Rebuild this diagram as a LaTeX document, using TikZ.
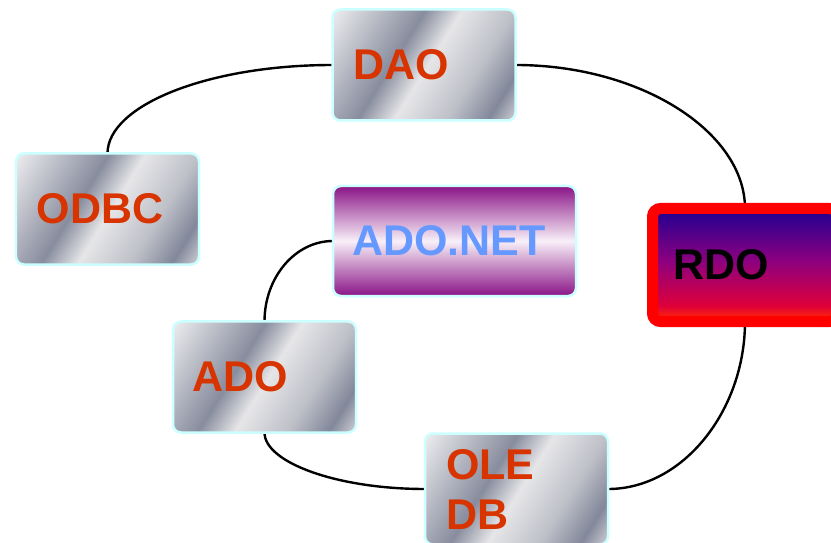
\documentclass[tikz,border=0pt]{standalone}
\usepackage{fontspec}
\setmainfont{Liberation Sans}
\usetikzlibrary{backgrounds}

% palette
\definecolor{labelred}{RGB}{216,52,0}
\definecolor{netblue}{RGB}{102,153,255}
\definecolor{edgecyan}{RGB}{204,255,255}
\definecolor{mA}{RGB}{238,238,240}
\definecolor{mB}{RGB}{136,141,158}
\definecolor{mC}{RGB}{230,230,232}
\definecolor{mD}{RGB}{190,192,200}
\definecolor{mE}{RGB}{130,136,154}
\definecolor{mF}{RGB}{210,211,216}
\definecolor{netpurple}{RGB}{138,20,135}
\definecolor{netlight}{RGB}{248,240,248}
\definecolor{rdoTop}{RGB}{30,0,145}
\definecolor{rdoMid}{RGB}{140,0,128}
\definecolor{rdoLow}{RGB}{222,0,58}
\definecolor{rdoBottom}{RGB}{255,40,0}
\definecolor{rdoEdge}{RGB}{255,0,0}

% brushed-metal bands along one axis; 25bp..75bp spans the tile
\pgfdeclarehorizontalshading{metal}{100bp}{%
  color(0bp)=(mA); color(25bp)=(mA); color(43.5bp)=(mB); color(50.8bp)=(mC);
  color(61.3bp)=(mD); color(69.4bp)=(mE); color(75bp)=(mF); color(100bp)=(mF)}
% purple band fill with a pale middle
\pgfdeclareverticalshading{netfill}{100bp}{%
  color(0bp)=(netpurple); color(25bp)=(netpurple); color(50bp)=(netlight);
  color(75bp)=(netpurple); color(100bp)=(netpurple)}
% blue to red fill
\pgfdeclareverticalshading{rdofill}{100bp}{%
  color(0bp)=(rdoBottom); color(26bp)=(rdoBottom); color(32bp)=(rdoLow);
  color(52bp)=(rdoMid); color(75bp)=(rdoTop); color(100bp)=(rdoTop)}

\tikzset{
  labelfont/.style={font=\fontsize{43bp}{50bp}\selectfont\bfseries},
  tilebase/.style={rounded corners=8bp, outer sep=0pt, inner xsep=21bp,
    align=left, labelfont},
  metalbox/.style={tilebase, draw=edgecyan, line width=2.5bp, text=labelred,
    minimum width=183bp, minimum height=111bp, text width=141bp},
  metalsheet/.style={shading=metal},
  netbox/.style={tilebase, draw=edgecyan, line width=2.5bp,
    shading=netfill, text=netblue, inner xsep=19bp,
    minimum width=243bp, minimum height=110bp, text width=205bp},
  rdobox/.style={tilebase, draw=rdoEdge, line width=11bp,
    shading=rdofill, text=black, inner xsep=21bp,
    minimum width=185bp, minimum height=113bp, text width=143bp},
  link/.style={draw=black, line width=2.4bp},
}

\begin{document}
\begin{tikzpicture}[x=1bp, y=-1bp]
  \useasboundingbox (0,0) rectangle (831,543);

  \node[metalbox] (dao)    at (424,65)    {DAO};
  \node[metalbox] (odbc)   at (107.5,209) {ODBC};
  \node[netbox]   (adonet) at (454.5,241) {ADO.NET};
  \node[rdobox]   (rdo)    at (745,265)   {RDO};
  \node[metalbox, inner xsep=19bp, text width=145bp] (ado) at (264.5,377) {ADO};
  \node[metalbox] (oledb)  at (516.5,489) {OLE\\DB};

  \begin{scope}[on background layer]
    \fill[white] (0,0) rectangle (831,543);
    % slanted metal bands inside each grey tile
    \foreach \tile in {dao,odbc,ado,oledb}{
      \begin{scope}
        \clip[rounded corners=8bp] (\tile.south west) rectangle (\tile.north east);
        \begin{scope}[transform canvas={shift={(\tile.center)}, rotate=-31.9}]
          \shade[metalsheet] (-107,-107) rectangle (107,107);
        \end{scope}
      \end{scope}
    }
    \path[link] (odbc.north) .. controls +(0,-48) and +(-125,0) .. (dao.west);
    \path[link] (dao.east) .. controls +(126,0) and +(0,-76) .. (rdo.north);
    \path[link] (rdo.south) .. controls +(0,89) and +(75,0) .. (oledb.east);
    \path[link] (oledb.west) .. controls +(-88,0) and +(0,30) .. (ado.south);
    \path[link] (ado.north) .. controls +(0,-44) and +(-38,0) .. (adonet.west);
  \end{scope}
\end{tikzpicture}
\end{document}
